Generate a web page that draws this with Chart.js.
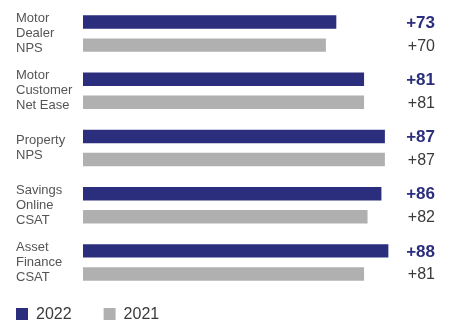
<!DOCTYPE html>
<html>
<head>
<meta charset="utf-8">
<script src="https://cdn.jsdelivr.net/npm/chart.js@4"></script>
<style>
  html, body { margin: 0; padding: 0; background: #ffffff; }
  #wrap { width: 449px; height: 322px; position: relative; }
</style>
</head>
<body>
<div id="wrap"><canvas id="c" width="449" height="322"></canvas></div>
<script>
const categories = [
  ['Motor', 'Dealer', 'NPS'],
  ['Motor', 'Customer', 'Net Ease'],
  ['Property', 'NPS'],
  ['Savings', 'Online', 'CSAT'],
  ['Asset', 'Finance', 'CSAT']
];
const seriesLabels = ['2022', '2021'];
const values2022 = [73, 81, 87, 86, 88];
const values2021 = [70, 81, 87, 82, 81];

const NAVY = '#2b2e7c';
const GREY = '#b1b0b0';
const FONT = "'Liberation Sans', Arial, Helvetica, sans-serif";

const valueLabels = {
  id: 'valueLabels',
  afterDatasetsDraw(chart) {
    const ctx = chart.ctx;
    const right = chart.chartArea.right + 5;
    ctx.save();
    ctx.textAlign = 'right';
    ctx.textBaseline = 'middle';
    chart.data.datasets.forEach((ds, di) => {
      const meta = chart.getDatasetMeta(di);
      if (di === 0) {
        ctx.font = 'bold 17px ' + FONT;
        ctx.fillStyle = NAVY;
      } else {
        ctx.font = '16px ' + FONT;
        ctx.fillStyle = '#3a3a3a';
      }
      meta.data.forEach((bar, i) => {
        ctx.fillText('+' + ds.data[i], right, bar.y + 1);
      });
    });
    ctx.restore();
  }
};

const customLegend = {
  id: 'customLegend',
  afterDraw(chart) {
    const ctx = chart.ctx;
    ctx.save();
    ctx.font = '16px ' + FONT;
    ctx.textBaseline = 'middle';
    ctx.textAlign = 'left';
    let x = 16;
    const y = 308;
    chart.data.datasets.forEach((ds) => {
      ctx.fillStyle = ds.backgroundColor;
      ctx.fillRect(x, y, 12, 12);
      ctx.fillStyle = '#3a3a3a';
      ctx.fillText(ds.label, x + 20, y + 6.5);
      x += 20 + ctx.measureText(ds.label).width + 32;
    });
    ctx.restore();
  }
};

new Chart(document.getElementById('c'), {
  type: 'bar',
  data: {
    labels: categories,
    datasets: [
      { label: seriesLabels[0], data: values2022, backgroundColor: NAVY },
      { label: seriesLabels[1], data: values2021, backgroundColor: GREY }
    ]
  },
  options: {
    indexAxis: 'y',
    responsive: false,
    animation: false,
    devicePixelRatio: 1,
    layout: { padding: { left: 16, right: 19, top: 5, bottom: 31 } },
    datasets: {
      bar: { categoryPercentage: 0.806, barPercentage: 0.585, borderWidth: 0 }
    },
    scales: {
      x: { display: false, min: 0, max: 100 },
      y: {
        grid: { display: false },
        border: { display: false },
        afterFit(scale) {
          scale.width = 67;
          scale.paddingTop = 0;
          scale.paddingBottom = 0;
        },
        ticks: {
          crossAlign: 'far',
          color: '#555555',
          padding: 0,
          font: { family: FONT, size: 13, lineHeight: 1.15 }
        }
      }
    },
    plugins: {
      legend: { display: false },
      tooltip: { enabled: false }
    }
  },
  plugins: [valueLabels, customLegend]
});
</script>
</body>
</html>
